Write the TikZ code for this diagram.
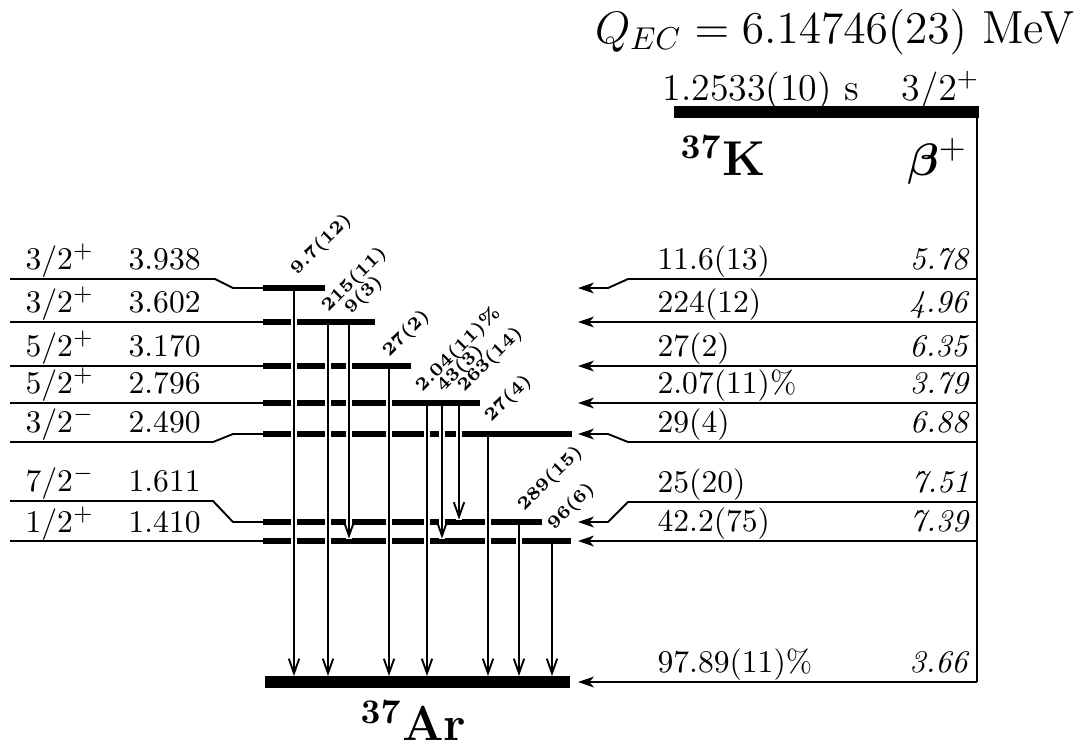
\documentclass[tikz,border=0pt]{standalone}
\usepackage{amsmath}
\usepackage{bm}
\usetikzlibrary{arrows.meta}
\begin{document}
\begin{tikzpicture}[x=0.3165pt,y=-0.3165pt,
  lvl/.style={line width=0.6pt},
  bar/.style={line width=1.6pt},
  gsbar/.style={line width=3.8pt},
  gapline/.style={white, line width=1.9pt},
  gam/.style={line width=0.6pt, -{Straight Barb[length=4.6pt,width=3.3pt]}},
  feed/.style={line width=0.6pt, -{Stealth[length=5pt,width=3.4pt,inset=1.4pt]}},
  glabel/.style={rotate=45, anchor=base west, inner sep=0pt, font=\fontsize{5.8}{7}\selectfont\bfseries},
  lab/.style={inner sep=0pt, anchor=base west},
  labr/.style={inner sep=0pt, anchor=base east},
  big/.style={font=\fontsize{15.5}{18}\selectfont\bfseries},
]
\useasboundingbox (0,0) rectangle (1088,748);

% ---------- title and parent ----------
\node[labr, font=\fontsize{14.7}{17}\selectfont] (qec) at (1075,43) {$Q_{EC} = 6.14746(23)$ MeV};
\node[lab, font=\fontsize{12}{14}\selectfont] (hl) at (662,100) {1.2533(10) s};
\node[labr, font=\fontsize{12}{14}\selectfont] (pjp) at (980,100) {$3/2^+$};
\draw[gsbar] (674,112) -- (979,112);
\node[lab, big] (k37) at (680,175) {$^{\mathbf{37}}$K};
\node[labr, big] (bplus) at (968,175) {$\bm{\beta}^{+}$};
\coordinate (btop) at (977,106);
\coordinate (bbot) at (977,682);
\draw[lvl] (btop) -- (bbot);

% ---------- daughter levels ----------
\draw[bar] (263,288) -- (325,288);
\draw[bar] (263,322) -- (375,322);
\draw[bar] (263,366) -- (411,366);
\draw[bar] (263,403) -- (480,403);
\draw[bar] (263,434) -- (572,434);
\draw[bar] (263,522) -- (542,522);
\draw[bar] (263,541) -- (571,541);
\draw[gsbar] (265,682) -- (570,682);
\node[lab, big] (ar37) at (360,740) {$^{\mathbf{37}}$Ar};

% left connecting lines
\draw[lvl] (10,279) -- (215,279) -- (233,288) -- (263,288);
\draw[lvl] (10,322) -- (263,322);
\draw[lvl] (10,366) -- (263,366);
\draw[lvl] (10,403) -- (263,403);
\draw[lvl] (10,442) -- (213,442) -- (233,434) -- (263,434);
\draw[lvl] (10,501) -- (213,501) -- (233,522) -- (263,522);
\draw[lvl] (10,541) -- (263,541);

% left labels
\foreach \i/\y/\jp/\e in {1/269/3\slash 2^+/3.938, 2/312/3\slash 2^+/3.602, 3/356/5\slash 2^+/3.170,
  4/393/5\slash 2^+/2.796, 5/432/3\slash 2^-/2.490, 6/491/7\slash 2^-/1.611, 7/532/1\slash 2^+/1.410}{
  \node[lab] (jp\i) at (25,\y) {$\jp$};
  \node[lab] (en\i) at (128,\y) {\e};
}

% ---------- beta feeding ----------
\draw[feed] (977,279) -- (628,279) -- (608,288) -- (578,288);
\draw[feed] (977,322) -- (578,322);
\draw[feed] (977,366) -- (578,366);
\draw[feed] (977,403) -- (578,403);
\draw[feed] (977,442) -- (628,442) -- (608,434) -- (578,434);
\draw[feed] (977,502) -- (628,502) -- (608,522) -- (578,522);
\draw[feed] (977,541) -- (578,541);
\draw[feed] (bbot) -- (578,682);

\foreach \i/\y/\ib/\lf in {1/269/11.6(13)/5.78, 2/312/224(12)/4.96, 3/356/27(2)/6.35,
  4/393/2.07(11)\%/3.79, 5/432/29(4)/6.88, 6/492/25(20)/7.51, 7/531/42.2(75)/7.39, 8/672/97.89(11)\%/3.66}{
  \node[lab] (ib\i) at (657,\y) {\ib};
  \node[labr] (lf\i) at (970,\y) {\textit{\lf}};
}

% ---------- gamma transitions ----------
\foreach \x/\a/\b in {294/288/676, 328/322/676, 349/322/538.5, 389/366/676, 427/403/676,
  442/403/538.5, 459/403/519.5, 488/434/676, 519/522/676, 552/541/676}{
  \draw[gapline] (\x,{\a+2.6}) -- (\x,\b);
  \draw[gam] (\x,\a) -- (\x,\b);
}

% gamma labels
\node[glabel] (g1) at (297,276) {9.7(12)};
\node[glabel] (g2) at (328,313) {215(11)};
\node[glabel] (g3) at (351,315) {9(3)};
\node[glabel] (g4) at (389,358) {27(2)};
\node[glabel] (g5) at (422,393) {2.04(11)\%};
\node[glabel] (g6) at (443,393) {43(3)};
\node[glabel] (g7) at (464,393) {263(14)};
\node[glabel] (g8) at (491,423) {27(4)};
\node[glabel] (g9) at (524,512) {289(15)};
\node[glabel] (g10) at (554,531) {96(6)};
\end{tikzpicture}
\end{document}
